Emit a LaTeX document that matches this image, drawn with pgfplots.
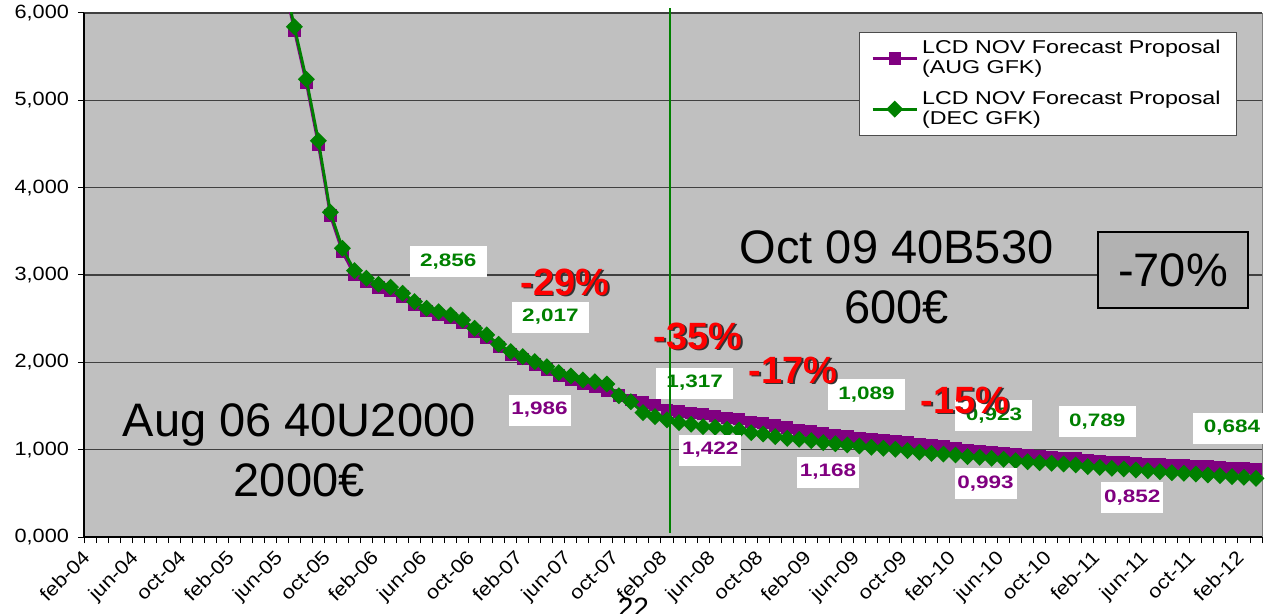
\documentclass[border=0pt]{standalone}
\usepackage{fontspec}
\setmainfont{Liberation Sans}
\newfontfamily\widefont[FakeStretch=1.25]{Liberation Sans}
\newfontfamily\tickfont[FakeStretch=1.13]{Liberation Sans}
\usepackage{pgfplots}
\usepackage{pgfplotstable}
\pgfplotsset{compat=1.18}

\definecolor{cpur}{HTML}{800080}
\definecolor{cgrn}{HTML}{008000}
\definecolor{cbg}{HTML}{C0C0C0}
\definecolor{cgrid}{HTML}{404040}
\definecolor{cbox}{HTML}{B2B2B2}

\tikzset{
  lblg/.style={fill=white,text=cgrn,font=\widefont\bfseries\fontsize{9}{9}\selectfont,
               minimum width=38.5pt,minimum height=15.5pt,inner sep=0pt},
  lblp/.style={lblg,text=cpur,minimum width=31pt},
  pct/.style={font=\bfseries\fontsize{19}{19}\selectfont,text=red,inner sep=0pt},
  pcts/.style={pct,text=black!80,xshift=0.9pt,yshift=-0.9pt},
  big/.style={font=\fontsize{23.5}{30}\selectfont,align=center,inner sep=0pt},
}

% month index: 0 = feb-04, points sit in the middle of each month
\pgfplotstableread{
x    aug  dec
16.5 6440 6480
17.5 5800 5842
18.5 5195 5241
19.5 4490 4538
20.5 3680 3718
21.5 3265 3306
22.5 3000 3050
23.5 2920 2963
24.5 2855 2894
25.5 2820 2860
26.5 2755 2791
27.5 2660 2695
28.5 2585 2619
29.5 2545 2580
30.5 2505 2542
31.5 2450 2485
32.5 2355 2390
33.5 2280 2314
34.5 2175 2207
35.5 2090 2122
36.5 2035 2065
37.5 1975 2008
38.5 1920 1950
39.5 1850 1882
40.5 1800 1844
41.5 1750 1798
42.5 1720 1779
43.5 1670 1752
44.5 1620 1618
45.5 1570 1549
46.5 1539 1424
47.5 1512 1378
48.5 1455 1340
49.5 1435 1309
50.5 1417 1291
51.5 1405 1263
52.5 1386 1256
53.5 1366 1233
54.5 1351 1225
55.5 1320 1195
56.5 1302 1180
57.5 1275 1149
58.5 1256 1130
59.5 1225 1119
60.5 1206 1103
61.5 1188 1080
62.5 1168 1068
63.5 1149 1054
64.5 1137 1042
65.5 1119 1027
66.5 1111 1016
67.5 1099 1004
68.5 1084 989
69.5 1065 970
70.5 1046 958
71.5 1034 950
72.5 1016 939
73.5 989  920
74.5 977  913
75.5 970  901
76.5 958  890
77.5 947  874
78.5 939  862
79.5 928  851
80.5 913  844
81.5 905  836
82.5 897  825
83.5 882  805
84.5 870  798
85.5 859  787
86.5 851  779
87.5 844  767
88.5 836  759
89.5 828  748
90.5 825  736
91.5 817  729
92.5 809  721
93.5 805  710
94.5 794  702
95.5 790  691
96.5 787  684
97.5 779  672
}\datatab

\begin{document}
\begin{tikzpicture}
\begin{axis}[
  scale only axis, width=589pt, height=262pt,
  xmin=0, xmax=98, ymin=0, ymax=6000,
  axis background/.style={fill=cbg,draw=gray},
  axis x line*=bottom, axis y line*=left,
  axis line style={black,line width=0.8pt},
  xtick={0,4,...,96}, minor xtick={0,1,...,98},
  xticklabels={feb-04,jun-04,oct-04,feb-05,jun-05,oct-05,feb-06,jun-06,oct-06,
    feb-07,jun-07,oct-07,feb-08,jun-08,oct-08,feb-09,jun-09,oct-09,feb-10,
    jun-10,oct-10,feb-11,jun-11,oct-11,feb-12},
  ytick={0,1000,...,6000},
  yticklabels={{0,000},{1,000},{2,000},{3,000},{4,000},{5,000},{6,000}},
  tick align=outside, major tick length=3pt, minor tick length=3pt,
  tick style={black,line width=0.5pt},
  ymajorgrids, grid style={cgrid,line width=0.6pt},
  xticklabel style={rotate=45,anchor=north east,inner sep=1pt,xshift=-2pt,
                    font=\tickfont\fontsize{9.6}{10}\selectfont},
  yticklabel style={font=\tickfont\fontsize{9.6}{10}\selectfont,xshift=-1pt},
  clip mode=individual,
  legend style={at={(1,1)},anchor=north east,xshift=-12.5pt,yshift=-9.5pt,
    draw=black!70,fill=white,font=\widefont\fontsize{9.3}{10}\selectfont,
    cells={align=left,anchor=west},row sep=3pt,inner xsep=6pt,inner ysep=2pt},
  legend image code/.code={\draw[mark repeat=2,mark phase=2,#1]
    plot coordinates {(0pt,0pt)(11pt,0pt)(22pt,0pt)};},
]
\addplot[cpur,line width=1.4pt,mark=square*,mark size=2.4pt,
  mark options={solid,fill=cpur,draw=cpur}] table[x=x,y=aug] {\datatab};
\addlegendentry{LCD NOV Forecast Proposal\\(AUG GFK)}
\addplot[cgrn,line width=1.4pt,mark=square*,mark size=2.3pt,
  mark options={solid,fill=cgrn,draw=cgrn,rotate=45}] table[x=x,y=dec] {\datatab};
\addlegendentry{LCD NOV Forecast Proposal\\(DEC GFK)}

% value boxes
\node[lblg] at (axis cs:30.3,3149) {2,856};
\node[lblg] at (axis cs:38.8,2519) {2,017};
\node[lblp] at (axis cs:37.9,1454) {1,986};
\node[lblg] at (axis cs:50.8,1763) {1,317};
\node[lblp] at (axis cs:52.1,996) {1,422};
\node[lblp] at (axis cs:61.9,744) {1,168};
\node[lblg] at (axis cs:65.1,1626) {1,089};
\node[lblg] at (axis cs:75.7,1386) {0,923};
\node[lblp] at (axis cs:75.0,607) {0,993};
\node[lblg] at (axis cs:84.3,1317) {0,789};
\node[lblp] at (axis cs:87.2,447) {0,852};
\node[lblg] at (axis cs:95.5,1248) {0,684};

\draw[cgrn,line width=1.3pt] (axis cs:48.75,46) -- (axis cs:48.75,6057);

% red drops
\node[pcts] at (axis cs:40.0,2920) {-29\%};
\node[pct]  at (axis cs:40.0,2920) {-29\%};
\node[pcts] at (axis cs:51.1,2302) {-35\%};
\node[pct]  at (axis cs:51.1,2302) {-35\%};
\node[pcts] at (axis cs:59.0,1912) {-17\%};
\node[pct]  at (axis cs:59.0,1912) {-17\%};
\node[pcts] at (axis cs:73.3,1569) {-15\%};
\node[pct]  at (axis cs:73.3,1569) {-15\%};

\node[big] at (axis cs:17.9,996) {Aug 06 40U2000\\2000€};
\node[big] at (axis cs:67.6,2977) {Oct 09 40B530\\600€};
\node[big,draw=black,line width=0.8pt,fill=cbox,minimum width=75pt,
  minimum height=38pt] at (axis cs:90.6,3057) {-70\%};

\node[font=\fontsize{14}{14}\selectfont,anchor=base] at (axis cs:45.7,-916) {22};

\coordinate (sw) at (rel axis cs:0,0);
\coordinate (ne) at (rel axis cs:1,1);
\end{axis}
\pgfresetboundingbox
\useasboundingbox ([shift={(-42pt,-38pt)}]sw) rectangle ([shift={(3pt,6.5pt)}]ne);
\end{tikzpicture}
\end{document}
